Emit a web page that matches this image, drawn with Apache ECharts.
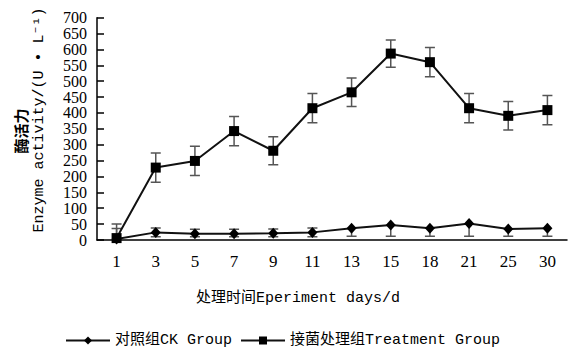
<!DOCTYPE html>
<html>
<head>
<meta charset="utf-8">
<script src="https://cdn.jsdelivr.net/npm/echarts@6/dist/echarts.min.js"></script>
<style>
  html, body { margin: 0; padding: 0; background: #fff; }
  #chart { width: 583px; height: 351px; }
</style>
</head>
<body>
<div id="chart"></div>
<script>
// Sampling days (category axis)
const days = ['1', '3', '5', '7', '9', '11', '13', '15', '18', '21', '25', '30'];

// Inoculated treatment group: enzyme activity and its standard deviation
const treatment = [6, 228, 249, 343, 281, 415, 465, 587, 560, 415, 391, 409];
const treatmentErr = [44, 46, 46, 46, 44, 46, 45, 43, 46, 46, 45, 46];

// Control (CK) group: enzyme activity with upper / lower error
const ck = [3, 24, 20, 20, 21, 24, 37, 47, 37, 52, 35, 37];
const ckErrUp = [33, 14, 14, 14, 14, 14, 0, 0, 0, 0, 0, 0];
const ckErrDown = [3, 14, 10, 10, 11, 14, 25, 35, 25, 40, 23, 25];

// Y-axis ticks
const yTicks = { min: 0, max: 700, interval: 50 };

const latinFont = "'Liberation Mono', 'Noto Sans CJK SC', monospace";
const numFont = "'Liberation Serif', serif";

function errorBars(name, values, up, down) {
  return {
    type: 'custom',
    name: name,
    silent: true,
    clip: true,
    z: 1,
    data: values.map((v, i) => [i, v, v + up[i], v - down[i], up[i], down[i]]),
    encode: { x: 0, y: [1, 2, 3] },
    renderItem: function (params, api) {
      const i = api.value(0);
      const hi = api.coord([i, api.value(2)]);
      const lo = api.coord([i, api.value(3)]);
      const cap = 5;
      const style = { stroke: '#555', lineWidth: 1.5 };
      const children = [{
        type: 'line',
        shape: { x1: hi[0], y1: hi[1], x2: lo[0], y2: lo[1] },
        style: style
      }];
      if (api.value(4) > 0) {
        children.push({ type: 'line', shape: { x1: hi[0] - cap, y1: hi[1], x2: hi[0] + cap, y2: hi[1] }, style: style });
      }
      if (api.value(5) > 0) {
        children.push({ type: 'line', shape: { x1: lo[0] - cap, y1: lo[1], x2: lo[0] + cap, y2: lo[1] }, style: style });
      }
      return { type: 'group', children: children };
    }
  };
}

const chart = echarts.init(document.getElementById('chart'), null, { renderer: 'svg' });

chart.setOption({
  animation: false,
  backgroundColor: '#fff',
  grid: { left: 97, right: 16, top: 17.7, bottom: 111, containLabel: false },
  xAxis: {
    type: 'category',
    data: days,
    boundaryGap: true,
    axisLine: { lineStyle: { color: '#000', width: 1.5 } },
    axisTick: { show: false },
    axisLabel: { color: '#000', fontFamily: numFont, fontSize: 17, margin: 13 }
  },
  yAxis: {
    type: 'value',
    min: yTicks.min,
    max: yTicks.max,
    interval: yTicks.interval,
    splitLine: { show: false },
    axisLine: { show: true, lineStyle: { color: '#000', width: 1.5 } },
    axisTick: { show: true, inside: true, length: 7, lineStyle: { color: '#000', width: 1.5 } },
    axisLabel: {
      color: '#000', fontFamily: numFont, fontSize: 16, lineHeight: 14, margin: 10,
      showMinLabel: true, showMaxLabel: true, hideOverlap: false
    }
  },
  legend: {
    data: ['对照组CK Group', '接菌处理组Treatment Group'],
    left: 60,
    top: 328,
    itemWidth: 44,
    itemHeight: 10,
    itemGap: 8,
    textStyle: { color: '#000', fontFamily: latinFont, fontSize: 15 }
  },
  graphic: [
    {
      type: 'text',
      x: 298, y: 298,
      style: {
        text: '处理时间Eperiment days/d',
        font: "15px " + latinFont,
        fill: '#000',
        align: 'center',
        verticalAlign: 'middle'
      }
    },
    {
      type: 'text',
      x: 39, y: 120,
      rotation: Math.PI / 2,
      style: {
        text: 'Enzyme activity/(U • L⁻¹)',
        font: "15px " + latinFont,
        fill: '#000',
        align: 'center',
        verticalAlign: 'middle'
      }
    },
    {
      type: 'text',
      x: 20, y: 131,
      rotation: Math.PI / 2,
      style: {
        text: '酶活力',
        font: "bold 15px 'Noto Sans CJK SC', sans-serif",
        fill: '#000',
        align: 'center',
        verticalAlign: 'middle'
      }
    }
  ],
  series: [
    errorBars('ckErr', ck, ckErrUp, ckErrDown),
    errorBars('treatmentErr', treatment, treatmentErr, treatmentErr),
    {
      name: '对照组CK Group',
      type: 'line',
      data: ck,
      z: 3,
      symbol: 'diamond',
      symbolSize: [10, 11],
      itemStyle: { color: '#000' },
      lineStyle: { color: '#111', width: 2 }
    },
    {
      name: '接菌处理组Treatment Group',
      type: 'line',
      data: treatment,
      z: 3,
      symbol: 'rect',
      symbolSize: 10,
      itemStyle: { color: '#000' },
      lineStyle: { color: '#111', width: 2 }
    }
  ]
});
</script>
</body>
</html>
